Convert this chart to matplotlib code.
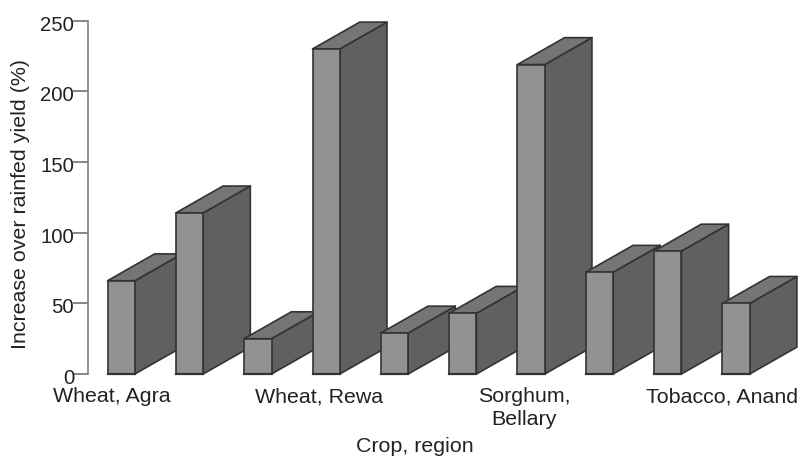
import matplotlib
matplotlib.use("Agg")
import matplotlib.pyplot as plt
from matplotlib.patches import Polygon
from matplotlib.transforms import ScaledTranslation

plt.rcParams['font.family'] = ['Liberation Sans', 'DejaVu Sans']

values = [66, 114, 25, 230, 29, 43, 219, 72, 87, 50]
group_labels = ['Wheat, Agra', 'Wheat, Rewa', 'Sorghum,\nBellary', 'Tobacco, Anand']
group_pos = [-0.14, 2.9, 5.9, 8.79]
yticks = [0, 50, 100, 150, 200, 250]

text_col = '#222222'
edge_col = '#333333'
front_col = '#929292'
side_col = '#606060'
top_col = '#757575'

W, H = 801, 457
fig = plt.figure(figsize=(W / 100, H / 100), dpi=100)
ax = fig.add_axes([88 / W, (H - 374) / H, (W - 88) / W, (374 - 20.7) / H])

width = 0.4
dx = 0.69
dy = 19

# fake 3d bars, later ones sit on top of earlier ones
for i, v in enumerate(values):
    l, r = i - width / 2, i + width / 2
    side = [(r, 0), (r + dx, dy), (r + dx, v + dy), (r, v)]
    top = [(l, v), (r, v), (r + dx, v + dy), (l + dx, v + dy)]
    for pts, col in [(side, side_col), (top, top_col)]:
        ax.add_patch(Polygon(pts, closed=True, facecolor=col, edgecolor=edge_col,
                             linewidth=1.2, joinstyle='round', clip_on=False, zorder=2 + i))
    ax.bar(i, v, width=width, color=front_col, edgecolor=edge_col, linewidth=1.2,
           clip_on=False, zorder=2 + i)
    ax.plot([l, r], [0, 0], color=edge_col, linewidth=1.6, clip_on=False, zorder=2 + i)

ax.set_xlim(-0.486, 9.95)
ax.set_ylim(0, 250)

for s in ['top', 'right', 'bottom']:
    ax.spines[s].set_visible(False)
ax.spines['left'].set_color('#8a8a8a')
ax.spines['left'].set_linewidth(1.3)

ax.set_yticks(yticks)
ax.tick_params(axis='y', length=11, width=1.1, color='#666666', labelsize=14.6,
               labelcolor=text_col, pad=-1)
# labels sit a little below their ticks
shift = ScaledTranslation(0, -2.5 / 100, fig.dpi_scale_trans)
for lab in ax.get_yticklabels():
    lab.set_transform(lab.get_transform() + shift)

ax.set_xticks(group_pos)
ax.set_xticklabels(group_labels, fontsize=15.4, color=text_col, linespacing=1.25, va='top')
ax.tick_params(axis='x', length=0, pad=9.5)

fig.text(414.5 / W, 1 - 451.5 / H, 'Crop, region', fontsize=15.4, color=text_col, ha='center', va='baseline')
fig.text(21 / W, 1 - 204 / H, 'Increase over rainfed yield (%)', fontsize=15.4, color=text_col,
         rotation=90, ha='center', va='center')

fig.savefig('out.png', dpi=100)
